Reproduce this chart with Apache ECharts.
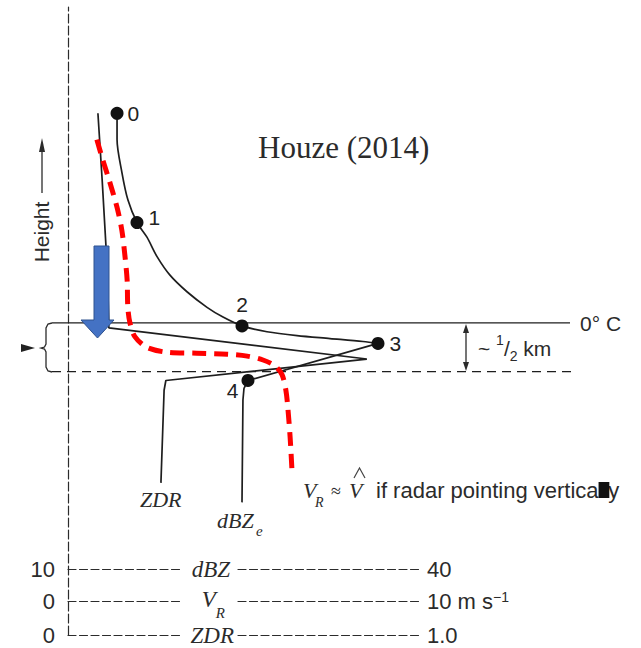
<!DOCTYPE html>
<html>
<head>
<meta charset="utf-8">
<title>Bright band profile - Houze (2014)</title>
<script src="https://cdn.jsdelivr.net/npm/echarts@6.0.0/dist/echarts.min.js"></script>
<style>
  html, body { margin: 0; padding: 0; background: #fff; }
  #chart { width: 641px; height: 648px; }
</style>
</head>
<body>
<div id="chart"></div>
<script>
// scales (all three share the same width on the page)
var dbzRange = [10, 40];
var vrRange = [0, 10];
var zdrRange = [0, 1.0];
var heightRange = [0, 6.44]; // km, schematic

var dbzTickLabels = ['10', '40'];
var vrTickLabels = ['0', '10 m s{sup|−1}'];
var zdrTickLabels = ['0', '1.0'];

// 0 C level and bottom of the melting layer (~1/2 km below)
var freezingLevel = 3.2;
var meltBase = 2.7;

// dBZe profile: snow aloft -> bright band peak -> rain
var dbzUpperX = [14.18, 14.18, 14.60, 15.11, 15.88, 16.73, 17.59, 18.69, 20.14, 21.85, 23.21, 24.83, 26.96, 29.52, 32.33, 35.14, 36.42];
var dbzUpperH = [5.35, 5.08, 4.74, 4.46, 4.23, 4.08, 3.88, 3.69, 3.52, 3.36, 3.26, 3.17, 3.11, 3.07, 3.04, 3.01, 2.99];
var dbzLowerX = [36.42, 25.34, 25.00, 24.91, 24.83];
var dbzLowerH = [2.99, 2.61, 2.53, 2.41, 1.36];

// numbered points on the dBZe profile
var pointNames = ['0', '1', '2', '3', '4'];
var pointDbz = [14.18, 15.88, 24.83, 36.42, 25.34];
var pointH = [5.35, 4.23, 3.17, 2.99, 2.61];

// ZDR profile
var zdrX = [0.085, 0.097, 0.108, 0.114, 0.116, 0.849, 0.278, 0.273, 0.264];
var zdrH = [5.35, 4.67, 3.98, 3.44, 3.15, 2.83, 2.61, 2.51, 1.56];

// V_R (fall speed) profile, red dashed
var vrX = [0.82, 0.99, 1.19, 1.39, 1.53, 1.62, 1.68, 1.70, 1.76, 1.90, 2.24, 2.81, 3.66, 4.52, 5.09, 5.54, 5.88, 6.08, 6.19, 6.25, 6.31, 6.36];
var vrH = [5.08, 4.87, 4.64, 4.39, 4.15, 3.88, 3.64, 3.36, 3.20, 3.06, 2.95, 2.90, 2.89, 2.88, 2.86, 2.82, 2.76, 2.67, 2.51, 2.31, 2.03, 1.71];


function zip(a, b) {
    return a.map(function (v, i) { return [v, b[i]]; });
}

var ink = '#2b2b2b';
var lineInk = '#1e1e1e';

// dash pattern with a hole in it, so the scale name sits in the gap
function dashWithGap(len, gapFrom, gapTo) {
    var arr = [], pos = 0;
    while (pos + 8 <= gapFrom) { arr.push(8, 3.5); pos += 11.5; }
    arr[arr.length - 1] += gapTo - pos;
    pos = gapTo;
    while (pos < len) { arr.push(8, 3.5); pos += 11.5; }
    return arr;
}
var scaleDash = dashWithGap(352, 116, 170);

// one dashed scale line at the bottom
function scaleAxis(range, labels, offset, name, nameRight) {
    return {
        type: 'value',
        min: range[0],
        max: range[1],
        interval: range[1] - range[0],
        position: 'bottom',
        offset: offset,
        axisLine: { show: true, onZero: false, lineStyle: { color: ink, width: 1.2, type: scaleDash } },
        axisTick: { show: false },
        splitLine: { show: false },
        axisLabel: {
            showMinLabel: true,
            showMaxLabel: true,
            alignMinLabel: 'right',
            alignMaxLabel: 'left',
            verticalAlign: 'middle',
            margin: 0,
            padding: [0, 13, 0, 7],
            color: ink,
            fontSize: 22,
            fontFamily: 'Liberation Sans',
            formatter: function (v) {
                return v === range[0] ? labels[0] : labels[1];
            },
            rich: {
                sup: { fontSize: 14, fontFamily: 'Liberation Sans', color: ink, verticalAlign: 'top', lineHeight: 14 }
            }
        },
        name: name,
        nameLocation: 'start',
        nameGap: -nameRight,
        nameTextStyle: {
            fontFamily: 'Liberation Serif',
            fontStyle: 'italic',
            fontSize: 23,
            color: ink,
            align: 'right',
            verticalAlign: 'middle',
            rich: {
                v: { fontFamily: 'Liberation Serif', fontStyle: 'italic', fontSize: 23, color: ink, lineHeight: 26, verticalAlign: 'top' },
                s: { fontFamily: 'Liberation Serif', fontStyle: 'italic', fontSize: 15, color: ink, lineHeight: 15, verticalAlign: 'top', padding: [17, 0, 0, 0] }
            }
        }
    };
}

// label spots of the numbered points
var labelSpots = [
    { position: 'right', distance: 4 },
    { position: 'right', distance: 5, offset: [0, -5] },
    { position: 'top', distance: 4 },
    { position: 'right', distance: 5 },
    { position: 'left', distance: 5, offset: [2, 10] }
];
var points = pointNames.map(function (n, i) {
    return { name: n, value: [pointDbz[i], pointH[i]], label: labelSpots[i] };
});

var serifItalic = { fontFamily: 'Liberation Serif', fontStyle: 'italic', fill: ink, verticalAlign: 'middle' };
function txt(x, y, text, extra) {
    var style = Object.assign({ text: text, fill: ink, verticalAlign: 'middle', fontFamily: 'Liberation Sans', fontSize: 20 }, extra || {});
    return { type: 'text', x: x, y: y, style: style, z: 20 };
}

// width of the text before the blacked-out "ll"
var ctx = document.createElement('canvas').getContext('2d');
ctx.font = '22px "Liberation Sans"';
var noteHead = ctx.measureText('if radar pointing vertica').width;
var noteLL = ctx.measureText('ll').width;

var chart = echarts.init(document.getElementById('chart'), null, { renderer: 'svg' });

var option = {
    animation: false,
    backgroundColor: '#fff',
    grid: { left: 68, right: 221, top: 7, bottom: 13, outerBoundsMode: 'none', containLabel: false },
    xAxis: [
        scaleAxis(dbzRange, dbzTickLabels, -66, 'dBZ', 162),
        scaleAxis(vrRange, vrTickLabels, -34, '{v|V}{s|R}', 157),
        scaleAxis(zdrRange, zdrTickLabels, 0, 'ZDR', 166)
    ],
    yAxis: {
        type: 'value',
        min: heightRange[0],
        max: heightRange[1],
        axisLine: { show: true, onZero: false, lineStyle: { color: ink, width: 1.2, type: [9, 3] } },
        axisTick: { show: false },
        axisLabel: { show: false },
        splitLine: { show: false }
    },
    series: [
        {
            name: 'ZDR', type: 'line', xAxisIndex: 2, clip: false, symbol: 'none',
            data: zip(zdrX, zdrH),
            lineStyle: { color: lineInk, width: 1.7 }
        },
        {
            name: 'dBZe', type: 'line', xAxisIndex: 0, clip: false, symbol: 'none', smooth: 0.3,
            data: zip(dbzUpperX, dbzUpperH),
            lineStyle: { color: lineInk, width: 1.7 }
        },
        {
            name: 'dBZe', type: 'line', xAxisIndex: 0, clip: false, symbol: 'none',
            data: zip(dbzLowerX, dbzLowerH),
            lineStyle: { color: lineInk, width: 1.7 }
        },
        {
            type: 'scatter', xAxisIndex: 0, symbolSize: 13, z: 4,
            itemStyle: { color: '#111', opacity: 1 },
            label: { show: true, formatter: '{b}', fontSize: 21, color: '#222', fontFamily: 'Liberation Sans' },
            data: points
        },
        {
            name: 'V_R', type: 'line', xAxisIndex: 1, clip: false, symbol: 'none', smooth: 0.3, z: 5,
            data: zip(vrX, vrH),
            lineStyle: { color: '#ff0000', width: 5, type: [14, 8] }
        }
    ],
    graphic: [
        // Height arrow
        { type: 'text', x: 41, y: 232, rotation: Math.PI / 2, style: { text: 'Height', fill: ink, fontSize: 21, fontFamily: 'Liberation Sans', align: 'center', verticalAlign: 'middle' } },
        { type: 'line', shape: { x1: 42, y1: 193, x2: 42, y2: 150 }, style: { stroke: ink, lineWidth: 1.3 } },
        { type: 'polygon', shape: { points: [[39, 152], [42, 138], [45, 152]] }, style: { fill: ink } },
        // brace + pointer on the left
        { type: 'polyline', shape: { points: [[52, 323], [48, 324], [46, 328], [46, 344], [44.5, 347], [41, 348], [44.5, 349], [46, 352], [46, 367], [48, 371], [52, 372]] }, style: { stroke: ink, fill: 'none', lineWidth: 1.3 } },
        { type: 'polygon', shape: { points: [[21, 344], [35, 348], [21, 352]] }, style: { fill: '#222' } },
        // blue arrow
        { type: 'polygon', z: 10, shape: { points: [[94, 246], [109, 246], [109, 320], [114, 320], [97.5, 338], [81, 320], [94, 320]] }, style: { fill: '#4472C4', stroke: '#2F528F', lineWidth: 1 } },
        // depth of melting layer
        { type: 'line', shape: { x1: 466, y1: 328, x2: 466, y2: 367 }, style: { stroke: ink, lineWidth: 1.3 } },
        { type: 'polygon', shape: { points: [[463, 333], [466, 324], [469, 333]] }, style: { fill: ink } },
        { type: 'polygon', shape: { points: [[463, 362], [466, 371], [469, 362]] }, style: { fill: ink } },
        {
            type: 'text', x: 478, y: 348, z: 20,
            style: {
                text: '{n|~ }{sup|1}{n|/}{sub|2}{n| km}',
                verticalAlign: 'middle',
                rich: {
                    n: { fontSize: 21, fontFamily: 'Liberation Sans', fill: ink, lineHeight: 30, verticalAlign: 'middle' },
                    sup: { fontSize: 14, fontFamily: 'Liberation Sans', fill: ink, lineHeight: 14, verticalAlign: 'top' },
                    sub: { fontSize: 14, fontFamily: 'Liberation Sans', fill: ink, lineHeight: 14, verticalAlign: 'bottom' }
                }
            }
        },
        txt(580, 323, '0° C', { fontSize: 21 }),
        txt(258, 147, 'Houze (2014)', { fontFamily: 'Liberation Serif', fontSize: 31 }),
        // curve names
        txt(140, 499, 'ZDR', Object.assign({ fontSize: 22 }, serifItalic)),
        txt(217, 520, 'dBZ', Object.assign({ fontSize: 22 }, serifItalic)),
        txt(256, 531, 'e', Object.assign({ fontSize: 15 }, serifItalic)),
        txt(303, 490, 'V', Object.assign({ fontSize: 22 }, serifItalic)),
        txt(315, 502, 'R', Object.assign({ fontSize: 14 }, serifItalic)),
        txt(331, 491, '≈', { fontFamily: 'Liberation Serif', fontSize: 18 }),
        txt(349, 490, 'V', Object.assign({ fontSize: 22 }, serifItalic)),
        { type: 'polyline', shape: { points: [[354, 478], [359.5, 468], [365, 478]] }, style: { stroke: '#444', lineWidth: 1.2, fill: 'none' } },
        txt(376, 490, 'if radar pointing vertically', { fontSize: 22 }),
        { type: 'rect', z: 21, shape: { x: 376 + noteHead, y: 482, width: noteLL + 1, height: 16 }, style: { fill: '#111' } }
    ]
};

chart.setOption(option);

// 0 C line and melting-layer base run past the plot on both sides
var yFreeze = chart.convertToPixel({ yAxisIndex: 0 }, freezingLevel);
var yBase = chart.convertToPixel({ yAxisIndex: 0 }, meltBase);
option.graphic.push(
    { type: 'line', z: 1, shape: { x1: 52, y1: yFreeze, x2: 570, y2: yFreeze }, style: { stroke: lineInk, lineWidth: 1.3 } },
    { type: 'line', z: 1, shape: { x1: 52, y1: yBase, x2: 573, y2: yBase }, style: { stroke: lineInk, lineWidth: 1.3, lineDash: [9, 6] } }
);
chart.setOption(option, true);
</script>
</body>
</html>
